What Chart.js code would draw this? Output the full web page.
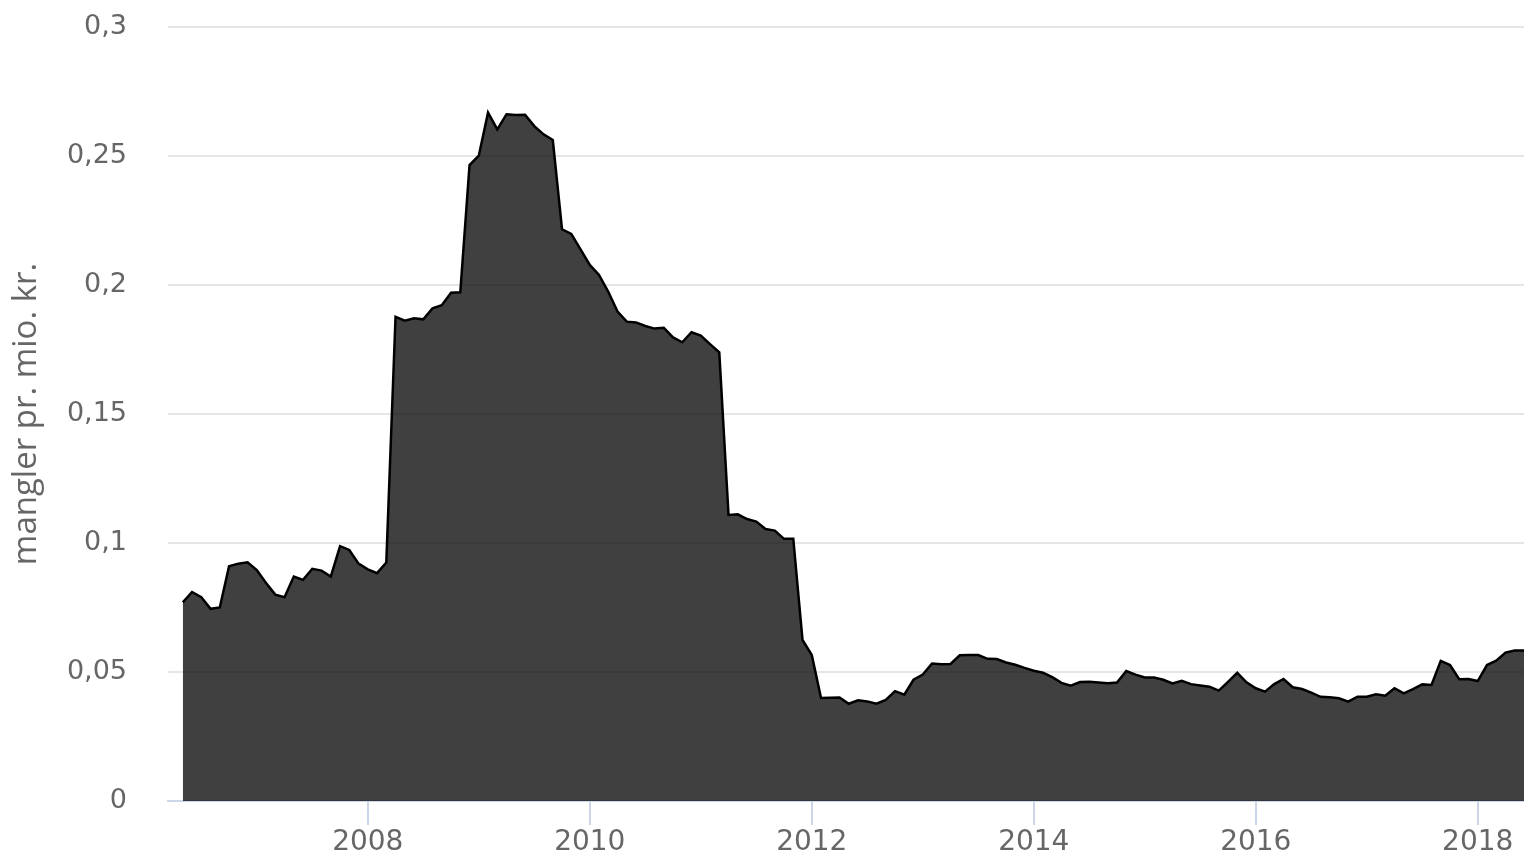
<!DOCTYPE html>
<html>
<head>
<meta charset="utf-8">
<script src="https://cdn.jsdelivr.net/npm/chart.js@4/dist/chart.umd.min.js"></script>
<style>
  html, body { margin: 0; padding: 0; background: #fff; }
  #wrap { width: 1524px; height: 857px; position: relative; }
</style>
</head>
<body>
<div id="wrap"><canvas id="chart"></canvas></div>
<script>
// months, May 2006 - June 2018
const months = [
  "2006-05","2006-06","2006-07","2006-08","2006-09","2006-10","2006-11","2006-12",
  "2007-01","2007-02","2007-03","2007-04","2007-05","2007-06","2007-07","2007-08","2007-09","2007-10","2007-11","2007-12",
  "2008-01","2008-02","2008-03","2008-04","2008-05","2008-06","2008-07","2008-08","2008-09","2008-10","2008-11","2008-12",
  "2009-01","2009-02","2009-03","2009-04","2009-05","2009-06","2009-07","2009-08","2009-09","2009-10","2009-11","2009-12",
  "2010-01","2010-02","2010-03","2010-04","2010-05","2010-06","2010-07","2010-08","2010-09","2010-10","2010-11","2010-12",
  "2011-01","2011-02","2011-03","2011-04","2011-05","2011-06","2011-07","2011-08","2011-09","2011-10","2011-11","2011-12",
  "2012-01","2012-02","2012-03","2012-04","2012-05","2012-06","2012-07","2012-08","2012-09","2012-10","2012-11","2012-12",
  "2013-01","2013-02","2013-03","2013-04","2013-05","2013-06","2013-07","2013-08","2013-09","2013-10","2013-11","2013-12",
  "2014-01","2014-02","2014-03","2014-04","2014-05","2014-06","2014-07","2014-08","2014-09","2014-10","2014-11","2014-12",
  "2015-01","2015-02","2015-03","2015-04","2015-05","2015-06","2015-07","2015-08","2015-09","2015-10","2015-11","2015-12",
  "2016-01","2016-02","2016-03","2016-04","2016-05","2016-06","2016-07","2016-08","2016-09","2016-10","2016-11","2016-12",
  "2017-01","2017-02","2017-03","2017-04","2017-05","2017-06","2017-07","2017-08","2017-09","2017-10","2017-11","2017-12",
  "2018-01","2018-02","2018-03","2018-04","2018-05","2018-06"
];

// mangler pr. mio. kr.
const values = [
  0.077, 0.081, 0.079, 0.0745, 0.075, 0.091, 0.092, 0.0925,
  0.0895, 0.0845, 0.080, 0.079, 0.087, 0.0857, 0.090, 0.0893, 0.087, 0.0988, 0.0973, 0.092,
  0.0898, 0.0883, 0.0924, 0.1877, 0.1862, 0.1871, 0.1867, 0.191, 0.1922, 0.197, 0.1972, 0.2465,
  0.2501, 0.2668, 0.2603, 0.2662, 0.2659, 0.266, 0.2616, 0.2584, 0.2562, 0.2216, 0.2198, 0.2138,
  0.2078, 0.2039, 0.1974, 0.1897, 0.1858, 0.1855, 0.1841, 0.1831, 0.1834, 0.1797, 0.1778, 0.1817,
  0.1804, 0.1771, 0.1739, 0.1109, 0.1111, 0.1093, 0.1083, 0.1054, 0.1048, 0.1016, 0.1016, 0.0624,
  0.0566, 0.0399, 0.0400, 0.0401, 0.0377, 0.0390, 0.0386, 0.0377, 0.0392, 0.0426, 0.0412, 0.0470,
  0.0490, 0.0533, 0.0530, 0.0531, 0.0565, 0.0566, 0.0566, 0.0551, 0.0550, 0.0537, 0.0528, 0.0516,
  0.0505, 0.0497, 0.0480, 0.0458, 0.0447, 0.0461, 0.0462, 0.0459, 0.0456, 0.0459, 0.0504, 0.0490,
  0.0479, 0.0479, 0.0470, 0.0456, 0.0466, 0.0453, 0.0448, 0.0443, 0.0428, 0.0462, 0.0497, 0.0460,
  0.0437, 0.0424, 0.0453, 0.0473, 0.0441, 0.0434, 0.0420, 0.0404, 0.0402, 0.0398, 0.0385, 0.0404,
  0.0404, 0.0414, 0.0408, 0.0437, 0.0417, 0.0434, 0.0452, 0.0450, 0.0543, 0.0527, 0.0472, 0.0473,
  0.0465, 0.0527, 0.0544, 0.0575, 0.0583, 0.0583
];

const yearTicks = [2008, 2010, 2012, 2014, 2016, 2018];
const yTicks = [0, 0.05, 0.1, 0.15, 0.2, 0.25, 0.3];

// month string -> fractional year for a linear x axis
const toYear = m => {
  const [y, mo] = m.split("-").map(Number);
  return y + (mo - 1) / 12;
};

const points = months.map((m, i) => ({ x: toYear(m), y: values[i] }));

const ctx = document.getElementById("chart").getContext("2d");
new Chart(ctx, {
  type: "line",
  data: {
    datasets: [{
      label: "mangler pr. mio. kr.",
      data: points,
      fill: "origin",
      backgroundColor: "rgba(0,0,0,0.75)",
      borderColor: "#000",
      borderWidth: 2.5,
      pointRadius: 0,
      tension: 0
    }]
  },
  options: {
    responsive: true,
    maintainAspectRatio: false,
    animation: false,
    layout: { padding: { top: 27, right: 0, bottom: 0, left: 0 } },
    plugins: {
      legend: { display: false },
      tooltip: { enabled: false }
    },
    scales: {
      x: {
        type: "linear",
        min: 2006.2,
        max: 2018.4167,
        afterBuildTicks: axis => {
          axis.ticks = yearTicks.map(v => ({ value: v }))
        },
        afterFit: axis => { axis.height = 56 },
        grid: {
          drawOnChartArea: false,
          drawTicks: true,
          tickLength: 24,
          color: "#ccd6eb",
          lineWidth: 2
        },
        border: { color: "#ccd6eb", width: 2 },
        ticks: {
          color: "#666",
          padding: 2,
          maxRotation: 0,
          font: { family: "DejaVu Sans", size: 28, lineHeight: 1.1 },
          callback: v => String(v)
        }
      },
      y: {
        min: 0,
        max: 0.3,
        afterBuildTicks: axis => {
          axis.ticks = yTicks.map(v => ({ value: v }))
        },
        afterFit: axis => { axis.width = 168 },
        grid: {
          drawTicks: true,
          tickLength: 41,
          tickColor: "rgba(0,0,0,0)",
          color: "#e6e6e6",
          lineWidth: 2
        },
        border: { display: false },
        ticks: {
          color: "#666",
          padding: 0,
          font: { family: "DejaVu Sans", size: 27 },
          callback: v => String(Number(v.toFixed(2))).replace(".", ",")
        },
        title: {
          display: true,
          text: "mangler pr. mio. kr.",
          color: "#666",
          padding: { top: 7, bottom: 10 },
          font: { family: "Open Sans", size: 33 }
        }
      }
    }
  }
});
</script>
</body>
</html>
